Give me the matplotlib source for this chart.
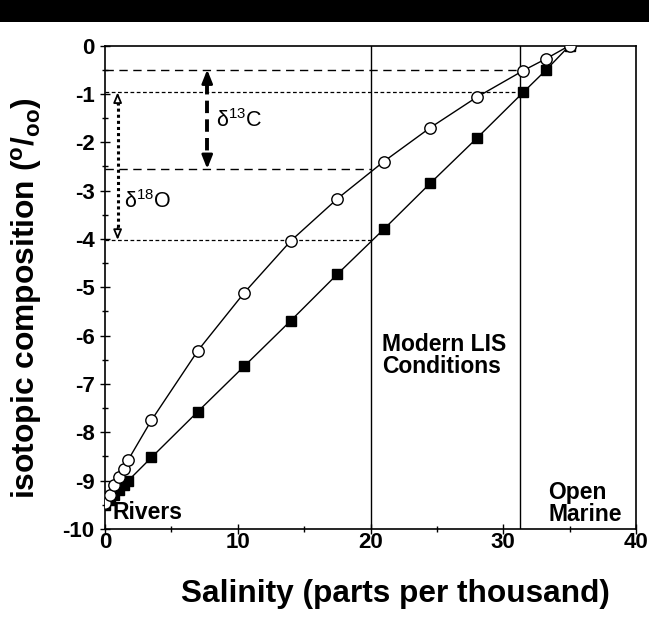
import matplotlib
matplotlib.use("Agg")
import matplotlib.pyplot as plt
from matplotlib.patches import Rectangle
from matplotlib.ticker import MultipleLocator

plt.rcParams['font.family'] = ['Liberation Sans', 'DejaVu Sans']
plt.rcParams['mathtext.fontset'] = 'custom'
plt.rcParams['mathtext.rm'] = 'Liberation Sans'
plt.rcParams['mathtext.bf'] = 'Liberation Sans:bold'
plt.rcParams['mathtext.it'] = 'Liberation Sans:italic'
plt.rcParams['axes.unicode_minus'] = False

# ---- data ----
salinity = [0, 0.35, 0.7, 1.05, 1.4, 1.75, 3.5, 7, 10.5, 14, 17.5, 21, 24.5, 28, 31.5, 33.25, 35]
d13c = [-9.47, -9.3, -9.1, -8.93, -8.75, -8.57, -7.75, -6.31, -5.11, -4.04, -3.17, -2.4, -1.7, -1.07, -0.52, -0.27, 0.0]
d18o = [-9.5, -9.4, -9.3, -9.2, -9.1, -9.0, -8.52, -7.57, -6.63, -5.69, -4.73, -3.8, -2.85, -1.92, -0.97, -0.5, 0.0]

modern_lis_x = 20
open_marine_x = 31.25
c_range = (-0.5, -2.55)     # delta13C range
o_range = (-0.97, -4.02)    # delta18O range
c_arrow_x = 7.7
o_arrow_x = 0.95

xticks = [0, 10, 20, 30, 40]
yticks = [0, -1, -2, -3, -4, -5, -6, -7, -8, -9, -10]

W, H = 649, 618
fig = plt.figure(figsize=(W / 100, H / 100), dpi=100)
fig.add_artist(Rectangle((0, 1 - 22 / H), 1, 22 / H, transform=fig.transFigure,
                         facecolor='black', edgecolor='none'))
ax = fig.add_axes([105 / W, 1 - 529 / H, 531 / W, 483.5 / H])

# reference lines
ax.axvline(modern_lis_x, color='black', lw=1.0)
ax.axvline(open_marine_x, color='black', lw=1.0)
ax.plot([0, 31.5], [c_range[0]] * 2, color='black', lw=1.0, ls=(0, (6, 4)))
ax.plot([0, modern_lis_x], [c_range[1]] * 2, color='black', lw=1.0, ls=(0, (6, 4)))
ax.plot([0, 31.5], [o_range[0]] * 2, color='black', lw=0.9, ls=(0, (3, 2)))
ax.plot([0, modern_lis_x], [o_range[1]] * 2, color='black', lw=0.9, ls=(0, (3, 2)))

# data series
ax.plot(salinity, d18o, color='black', lw=1.0, marker='s', ms=6.8,
        mfc='black', mec='black', zorder=3)
ax.plot(salinity, d13c, color='black', lw=1.0, marker='o', ms=8.2,
        mfc='white', mec='black', mew=1.0, zorder=4)

# delta13C arrow (heavy dashed)
ax.plot([c_arrow_x] * 2, [c_range[0] - 0.25, c_range[1] + 0.25], color='black',
        lw=2.8, ls=(0, (3.2, 1.6)))
for y0, y1 in [(c_range[0] - 0.3, c_range[0]), (c_range[1] + 0.3, c_range[1])]:
    ax.annotate('', xy=(c_arrow_x, y1), xytext=(c_arrow_x, y0),
                arrowprops=dict(arrowstyle='-|>,head_length=0.8,head_width=0.32',
                                color='black', lw=2.0, shrinkA=0, shrinkB=0))
# delta18O arrow (dotted, open heads)
ax.plot([o_arrow_x] * 2, [o_range[0] - 0.2, o_range[1] + 0.2], color='black',
        lw=2.2, ls=(0, (1, 1)))
for y0, y1 in [(o_range[0] - 0.25, o_range[0]), (o_range[1] + 0.25, o_range[1])]:
    ax.annotate('', xy=(o_arrow_x, y1), xytext=(o_arrow_x, y0),
                arrowprops=dict(arrowstyle='-|>,head_length=0.6,head_width=0.25',
                                ec='black', fc='white', lw=1.3, shrinkA=0, shrinkB=0))

ax.text(8.38, -1.68, 'δ$^{13}$C', fontsize=15.5, va='baseline', ha='left')
ax.text(1.4, -3.36, 'δ$^{18}$O', fontsize=15.5, va='baseline', ha='left')

tfs = 16.5
ax.text(20.9, -6.31, 'Modern LIS', fontsize=tfs, fontweight='bold', va='baseline', ha='left')
ax.text(20.9, -6.78, 'Conditions', fontsize=tfs, fontweight='bold', va='baseline', ha='left')
ax.text(33.4, -9.37, 'Open', fontsize=tfs, fontweight='bold', va='baseline', ha='left')
ax.text(33.4, -9.83, 'Marine', fontsize=tfs, fontweight='bold', va='baseline', ha='left')
ax.text(0.55, -9.80, 'Rivers', fontsize=tfs, fontweight='bold', va='baseline', ha='left')

ax.set_xlim(0, 40)
ax.set_ylim(-10, 0)
ax.set_xticks(xticks)
ax.set_yticks(yticks)
ax.xaxis.set_minor_locator(MultipleLocator(5))
ax.yaxis.set_minor_locator(MultipleLocator(0.5))
ax.tick_params(which='both', direction='inout', width=1.0, top=False, right=False)
ax.tick_params(which='major', length=7)
ax.tick_params(which='minor', length=5)
ax.tick_params(axis='x', pad=-1)
ax.tick_params(axis='y', pad=4)
for lab in ax.get_xticklabels() + ax.get_yticklabels():
    lab.set_fontweight('bold')
    lab.set_fontsize(16)
for s in ax.spines.values():
    s.set_linewidth(1.2)

# axis titles, sized to the reference extents
ylab = fig.text(27 / W, 1 - 298 / H,
                r'isotopic composition ($^{\mathbf{o}}$/$_{\mathbf{oo}}$)',
                fontsize=18, fontweight='bold', rotation=90, ha='center', va='center')
xlab = fig.text(395.5 / W, 1 - 594 / H, 'Salinity (parts per thousand)', fontsize=21,
                fontweight='bold', ha='center', va='center')
r = fig.canvas.get_renderer()
for t, target, dim in [(ylab, 402, 'h'), (xlab, 429, 'w')]:
    bb = t.get_window_extent(r)
    cur = bb.height if dim == 'h' else bb.width
    t.set_fontsize(t.get_fontsize() * target / cur)

fig.savefig('out.png', dpi=100)
